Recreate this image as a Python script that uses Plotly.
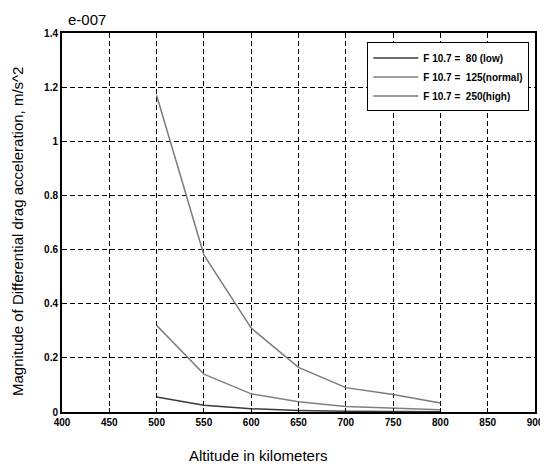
import plotly.graph_objects as go

altitude = [500, 550, 600, 650, 700, 750, 800]
low = [0.055, 0.025, 0.012, 0.006, 0.003, 0.002, 0.001]
normal = [0.32, 0.14, 0.067, 0.038, 0.02, 0.014, 0.008]
high = [1.17, 0.58, 0.31, 0.165, 0.09, 0.065, 0.033]
names = ["F 10.7 =  80 (low)", "F 10.7 =  125(normal)", "F 10.7 =  250(high)"]
xticks = [400, 450, 500, 550, 600, 650, 700, 750, 800, 850, 900]
yticks = [0, 0.2, 0.4, 0.6, 0.8, 1, 1.2, 1.4]
ytext = ["0", "0.2", "0.4", "0.6", "0.8", "1", "1.2", "1.4"]

colors = ["#3a3a3a", "#808080", "#7a7a7a"]
fig = go.Figure()
for ys, nm, c in zip([low, normal, high], names, colors):
    fig.add_trace(go.Scatter(x=altitude, y=ys, mode="lines", name=nm,
                             line=dict(color=c, width=1.5)))

fam = "Liberation Sans, Arial"
fig.update_layout(
    width=540, height=460,
    margin=dict(l=54, r=13, t=25, b=56, autoexpand=False),
    paper_bgcolor="white", plot_bgcolor="white",
    showlegend=True,
    legend=dict(x=0.988, y=0.975, xanchor="right", yanchor="top",
                bgcolor="white", bordercolor="black", borderwidth=1,
                font=dict(family=fam, size=10, color="black", weight="bold"),
                tracegroupgap=0, itemwidth=45),
    font=dict(family=fam, size=10, color="black"),
)
common = dict(showgrid=True, gridcolor="black", griddash="5px,3px", gridwidth=1,
              showline=True, linecolor="black", linewidth=2, mirror=True,
              ticks="inside", ticklen=4, tickcolor="black", automargin=False,
              tickfont=dict(family=fam, size=10, color="black", weight="bold"),
              zeroline=False)
fig.update_xaxes(range=[400, 900], tickvals=xticks, ticktext=[str(t) for t in xticks], **common)
fig.update_yaxes(range=[0, 1.4], tickvals=yticks, ticktext=ytext, **common)
fig.add_annotation(text="e-007", xref="paper", yref="paper", x=0.0, y=1.0,
                   xanchor="left", yanchor="bottom", yshift=3, xshift=4, showarrow=False,
                   font=dict(family=fam, size=15, color="black"))
fig.add_annotation(text="Altitude in kilometers", xref="paper", yref="paper",
                   x=0.414, y=0, yshift=-43, xanchor="center", yanchor="middle",
                   showarrow=False,
                   font=dict(family=fam, size=15, color="black"))
fig.add_annotation(text="Magnitude of Differential drag acceleration, m/s^2",
                   xref="paper", yref="paper", x=0, xshift=-44, y=0.475,
                   textangle=-90, xanchor="center", yanchor="middle", showarrow=False,
                   font=dict(family=fam, size=15, color="black"))
fig.write_html("out.html")
